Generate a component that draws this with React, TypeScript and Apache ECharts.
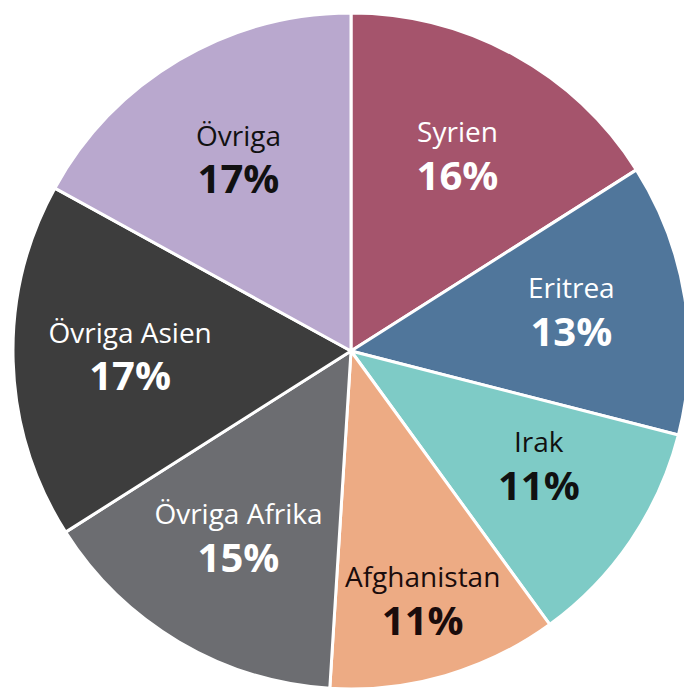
import React, { useEffect, useRef } from "react";
import * as echarts from "echarts";

const categories = ["Syrien", "Eritrea", "Irak", "Afghanistan", "Övriga Afrika", "Övriga Asien", "Övriga"];
const values = [16, 13, 11, 11, 15, 17, 17];
const colors = ["#A5546C", "#50769B", "#7ECBC6", "#EDAB84", "#6C6D71", "#3D3D3D", "#B9A8CE"];
const labelColors = ["#FFFFFF", "#FFFFFF", "#111111", "#1A0C0C", "#FFFFFF", "#FFFFFF", "#111111"];

const FONT = "'Open Sans', sans-serif";

export default function App() {
  const ref = useRef<HTMLDivElement>(null);
  useEffect(() => {
    if (!ref.current) return;
    const chart = echarts.init(ref.current, undefined, { renderer: "svg" });
    const center = [351, 351];
    const labelNudge: Record<number, { dx: number; dy: number }> = {
      0: { dx: 0, dy: -2 },
      1: { dx: 2, dy: -5 },
      2: { dx: 5, dy: -10 },
      3: { dx: 10, dy: 37 },
      4: { dx: 0, dy: -4 },
      5: { dx: 0, dy: -2 },
      6: { dx: 0, dy: -2 },
    };
    const pieData = categories.map((name, i) => ({
      name,
      value: values[i],
      itemStyle: { color: colors[i] },
    }));
    const labelData = categories.map((name, i) => ({
      name,
      value: values[i],
      label: {
        rich: {
          n: { fontFamily: FONT, fontSize: 28, fontWeight: 500, color: labelColors[i], lineHeight: 38, align: "center" },
          p: { fontFamily: FONT, fontSize: 40, fontWeight: 700, color: labelColors[i], lineHeight: 48, align: "center" },
        },
      },
    }));
    chart.setOption({
      animation: false,
      backgroundColor: "#FFFFFF",
      series: [
        {
          type: "pie",
          center,
          radius: [0, 338],
          startAngle: 90,
          clockwise: true,
          silent: true,
          data: pieData,
          label: { show: false },
          labelLine: { show: false },
          itemStyle: { borderColor: "#FFFFFF", borderWidth: 3 },
        },
        {
          type: "pie",
          center,
          radius: [98, 338],
          startAngle: 90,
          clockwise: true,
          silent: true,
          data: labelData,
          itemStyle: { color: "rgba(0,0,0,0)", borderWidth: 0 },
          labelLine: { show: false },
          label: {
            show: true,
            position: "inside",
            formatter: (p: any) => `{n|${p.name}}\n{p|${p.value}%}`,
          },
          labelLayout: (params: any) => labelNudge[params.dataIndex] || {},
        },
      ],
    });
    return () => chart.dispose();
  }, []);
  return (
    <div
      ref={ref}
      style={{ position: "fixed", left: 0, top: 0, width: 684, height: 689, background: "#fff" }}
    />
  );
}
